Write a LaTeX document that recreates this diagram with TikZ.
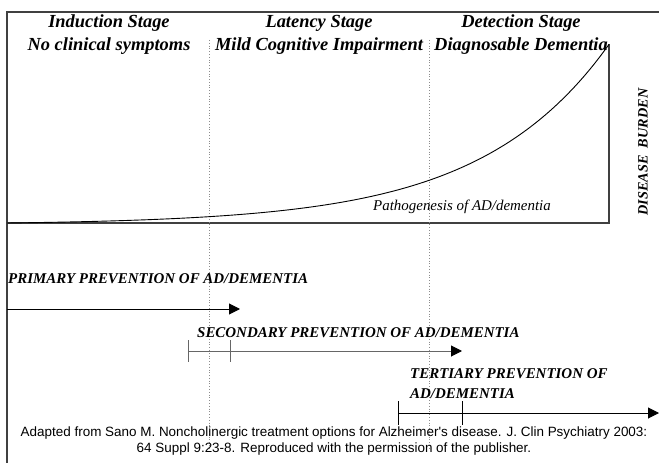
\documentclass[tikz,border=0pt]{standalone}
\usepackage{fontspec}
\setmainfont{Liberation Serif}
\newfontfamily\capfont{Liberation Sans}
\usetikzlibrary{arrows.meta}

\begin{document}
\begin{tikzpicture}[%
    x=1bp, y=-1bp,%
    stage/.style={font=\fontsize{18.5}{23}\selectfont\bfseries\itshape, align=center, inner sep=0pt},%
    prev/.style={font=\fontsize{15}{20}\selectfont\bfseries\itshape, align=left, anchor=west, inner sep=0pt},%
    axe/.style={draw=black!75, line width=1.3bp},%
    seuil/.style={draw=black!45, dotted, line width=0.8bp},%
    fleche/.style={line width=1bp, -{Triangle[length=11bp,width=11bp,color=black]}},%
    ]
    %
    % Définitions
    %
    \pgfmathsetmacro{\xl}{7};%
    \pgfmathsetmacro{\xa}{209};%
    \pgfmathsetmacro{\xb}{429};%
    \pgfmathsetmacro{\xr}{609};%
    \pgfmathsetmacro{\yh}{12};%
    \pgfmathsetmacro{\ytop}{44};%
    \pgfmathsetmacro{\yaxe}{223};%

    \useasboundingbox (0,0) rectangle (659,463);

    % Cadre
    \coordinate (cadreg) at (\xl,463);
    \coordinate (cadreo) at (\xl,\yh);
    \coordinate (cadred) at (659,\yh);
    \draw[axe] (cadreg) -- (cadreo) -- (cadred);

    % Axes
    \coordinate (orig) at (\xl,\yaxe);
    \coordinate (coin) at (\xr,\yaxe);
    \coordinate (haut) at (\xr,\ytop);
    \draw[axe] (orig) -- (coin) -- (haut);

    % Seuils
    \coordinate (sa1) at (\xa,40);
    \coordinate (sa2) at (\xa,448);
    \coordinate (sb1) at (\xb,40);
    \coordinate (sb2) at (\xb,450);
    \draw[seuil] (sa1) -- (sa2);
    \draw[seuil] (sb1) -- (sb2);

    % Courbe
    \draw[line width=0.9bp] plot[domain=0:602, samples=120, smooth]
        ({\xl+\x},{\yaxe-1.65*(exp(0.0078*\x)-1)});

    % Stades
    \node[stage] (induction) at (109,35) {Induction Stage\\No clinical symptoms};
    \node[stage] (latence) at (319,35) {Latency Stage\\Mild Cognitive Impairment};
    \node[stage] (detection) at (521,35) {Detection Stage\\Diagnosable Dementia};

    \node[font=\fontsize{15}{17}\selectfont\itshape, anchor=west, inner sep=0pt] (patho) at (373,207) {Pathogenesis of AD/dementia};
    \node[font=\fontsize{14.3}{16}\selectfont\bfseries\itshape, rotate=90, inner sep=0pt] (fardeau) at (643,152) {DISEASE\ \ BURDEN};

    % Prévention primaire
    \node[prev] (prim) at (8,279) {PRIMARY PREVENTION OF AD/DEMENTIA};
    \coordinate (p0) at (\xl,309);
    \coordinate (p1) at (240,309);
    \draw[fleche] (p0) -- (p1);

    % Prévention secondaire
    \node[prev] (sec) at (197,333) {SECONDARY PREVENTION OF AD/DEMENTIA};
    \coordinate (s0) at (188,351);
    \coordinate (s1) at (230,351);
    \coordinate (s2) at (462,351);
    \draw[fleche, draw=black!60] (s0) -- (s2);
    \draw[draw=black!60, line width=1bp] (s0) ++(0,-11) -- ++(0,22);
    \draw[draw=black!60, line width=1bp] (s1) ++(0,-11) -- ++(0,22);

    % Prévention tertiaire
    \node[prev] (tert) at (410,384) {TERTIARY PREVENTION OF\\AD/DEMENTIA};
    \coordinate (t0) at (398,413);
    \coordinate (t1) at (462,413);
    \coordinate (t2) at (659,413);
    \draw[fleche] (t0) -- (t2);
    \draw[line width=1bp] (t0) ++(0,-12) -- ++(0,24);
    \draw[line width=1bp] (t1) ++(0,-12) -- ++(0,24);

    % Source
    \node[font=\capfont\fontsize{13.5}{17}\selectfont, align=center, inner sep=0pt] (source) at (334,441)
        {Adapted from Sano M. Noncholinergic treatment options for Alzheimer's disease. J. Clin Psychiatry 2003:\\64 Suppl 9:23-8. Reproduced with the permission of the publisher.};

\end{tikzpicture}
\end{document}
